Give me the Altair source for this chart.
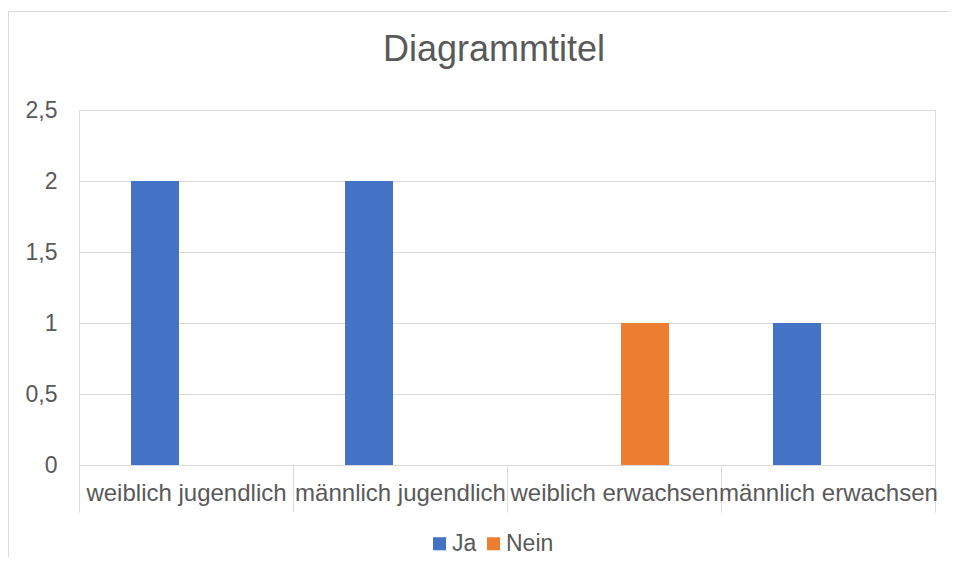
import altair as alt
import pandas as pd

categories = ["weiblich jugendlich", "männlich jugendlich", "weiblich erwachsen", "männlich erwachsen"]
series = ["Ja", "Nein"]
ja_values = [2, 2, 0, 1]
nein_values = [0, 0, 1, 0]
y_ticks = [0, 0.5, 1, 1.5, 2, 2.5]
colors = ["#4472C4", "#ED7D31"]

rows = []
for c, j, n in zip(categories, ja_values, nein_values):
    rows.append({"Kategorie": c, "Serie": "Ja", "Wert": j})
    rows.append({"Kategorie": c, "Serie": "Nein", "Wert": n})
df = pd.DataFrame(rows)

W, H = 856, 355
FONT = "Liberation Sans"
TEXT = "#595959"
GRID = "#d9d9d9"

bars = alt.Chart(df).mark_bar().encode(
    x=alt.X(
        "Kategorie:N", sort=categories, title=None,
        scale=alt.Scale(paddingInner=0, paddingOuter=0),
        axis=alt.Axis(
            labelAngle=0, tickBand="extent", ticks=True, tickSize=47,
            tickColor=GRID, domainColor=GRID, labelBaseline="middle",
            labelPadding=-19, labelFontSize=24, labelColor=TEXT, labelFont=FONT,
            grid=False, labelLimit=0,
        ),
    ),
    xOffset=alt.XOffset(
        "Serie:N", sort=series,
        scale=alt.Scale(paddingInner=0.226, paddingOuter=0.839),
    ),
    y=alt.Y(
        "Wert:Q", title=None,
        scale=alt.Scale(domain=[0, 2.5], nice=False),
        axis=alt.Axis(
            values=y_ticks,
            labelExpr="replace(format(datum.value, ''), '.', ',')",
            domain=False, ticks=False, gridColor=GRID, labelPadding=22,
            labelFontSize=23, labelColor=TEXT, labelFont=FONT,
        ),
    ),
    color=alt.Color(
        "Serie:N", sort=series,
        scale=alt.Scale(domain=series, range=colors),
        legend=alt.Legend(
            orient="none", legendX=349, legendY=422, direction="horizontal",
            title=None, labelFontSize=23, labelColor=TEXT, labelFont=FONT,
            symbolType="square", symbolSize=170, symbolStrokeWidth=0,
            labelOffset=1, columnPadding=5, padding=0,
        ),
    ),
)

frame_df = pd.DataFrame({"f": [0]})
left_line = alt.Chart(frame_df).mark_rule(color=GRID, strokeWidth=1).encode(
    x=alt.value(-70.5), y=alt.value(-98.5), y2=alt.value(H + 140)
)
top_line = alt.Chart(frame_df).mark_rule(color=GRID, strokeWidth=1).encode(
    x=alt.value(-70.5), x2=alt.value(W + 40), y=alt.value(-98.5)
)

chart = alt.layer(bars, left_line, top_line).properties(
    width=W, height=H,
    title=alt.TitleParams(
        "Diagrammtitel", fontSize=36, color=TEXT, font=FONT,
        fontWeight="normal", anchor="middle", dx=-13, offset=-58,
    ),
    autosize=alt.AutoSizeParams(type="none"),
    padding={"left": 71, "top": 102, "right": 14, "bottom": 92},
).configure_view(stroke=None).configure(background="white")

chart.save("out.html", embed_options={"renderer": "svg", "actions": False})
